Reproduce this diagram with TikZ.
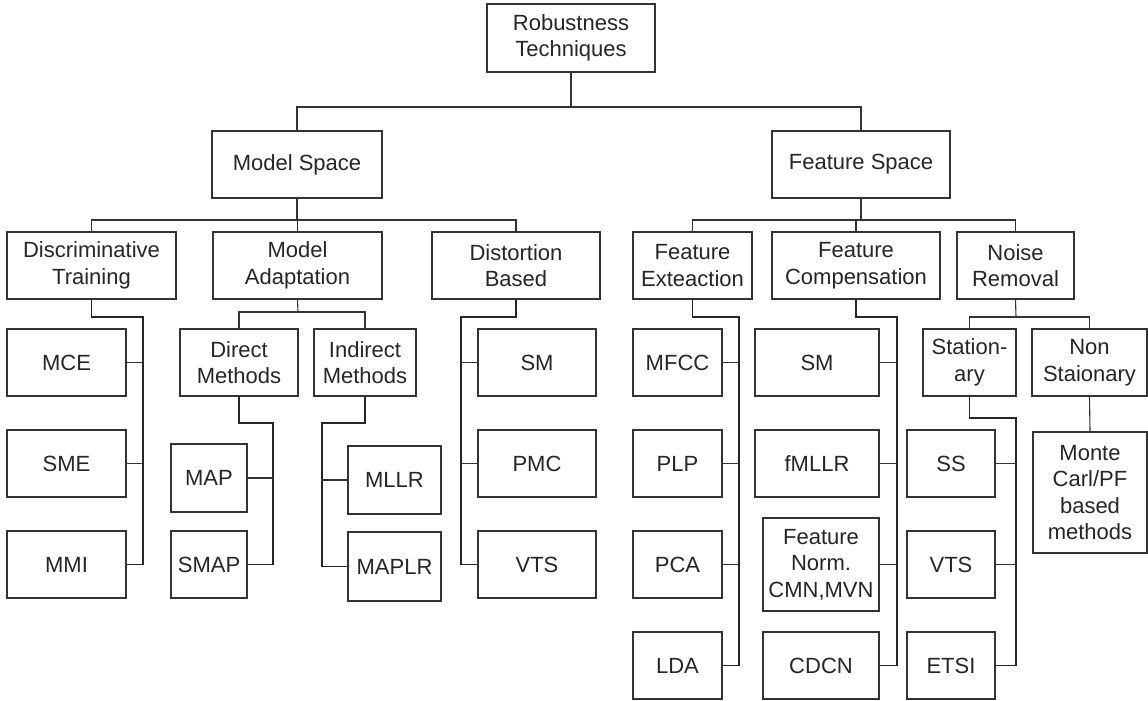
\documentclass[tikz,border=0pt]{standalone}
\usepackage{fontspec}
\setmainfont{Liberation Sans}
\begin{document}
\begin{tikzpicture}[x=1pt,y=-1pt,
  box/.style={draw=black!80,line width=1.1pt,fill=white,inner sep=0pt,align=center,
    text=black!85,font=\fontsize{22}{26.5}\selectfont},
  link/.style={draw=black!80,line width=1.1pt},
  elbow/.style={draw=black!85,line width=1.6pt}]
\useasboundingbox (0,0) rectangle (1148,701);
% box helper: name, x1, y1, x2, y2, text
\newcommand\boxnode[6]{\node[box,minimum width={(#4-#2)*1pt},minimum height={(#5-#3)*1pt}]
  (#1) at ({(#2+#4)/2},{(#3+#5)/2}) {#6};}

% root and the two spaces
\boxnode{root}{487}{4}{655}{72}{Robustness\\Techniques}
\boxnode{ms}{212}{131}{382}{198}{Model Space}
\boxnode{fs}{772}{131}{950}{198}{Feature Space}

% second level
\boxnode{dt}{7}{232}{176}{299}{Discriminative\\Training}
\boxnode{ma}{213}{232}{382}{299}{Model\\Adaptation}
\boxnode{db}{432}{232}{600}{299}{Distortion\\Based}
\boxnode{fe}{633}{232}{752}{299}{Feature\\Exteaction}
\boxnode{fc}{772}{232}{940}{299}{Feature\\Compensation}
\boxnode{nr}{957}{232}{1074}{299}{Noise\\Removal}

% discriminative training
\boxnode{mce}{7}{329}{126}{396}{MCE}
\boxnode{sme}{7}{430}{126}{497}{SME}
\boxnode{mmi}{7}{531}{126}{598}{MMI}

% model adaptation
\boxnode{dm}{180}{329}{298}{396}{Direct\\Methods}
\boxnode{im}{314}{329}{416}{396}{Indirect\\Methods}
\boxnode{map}{171}{444}{247}{512}{MAP}
\boxnode{smap}{171}{531}{247}{598}{SMAP}
\boxnode{mllr}{348}{446}{441}{514}{MLLR}
\boxnode{maplr}{348}{532}{441}{601}{MAPLR}

% distortion based
\boxnode{dsm}{478}{329}{596}{396}{SM}
\boxnode{pmc}{478}{430}{596}{497}{PMC}
\boxnode{dvts}{478}{531}{596}{598}{VTS}

% feature extraction
\boxnode{mfcc}{633}{329}{722}{396}{MFCC}
\boxnode{plp}{633}{430}{722}{497}{PLP}
\boxnode{pca}{633}{531}{722}{598}{PCA}
\boxnode{lda}{633}{632}{722}{699}{LDA}

% feature compensation
\boxnode{csm}{755}{329}{879}{396}{SM}
\boxnode{fmllr}{755}{430}{879}{497}{fMLLR}
\boxnode{fnorm}{763}{518}{879}{611}{Feature\\Norm.\\CMN,MVN}
\boxnode{cdcn}{763}{632}{879}{699}{CDCN}

% noise removal
\boxnode{st}{923}{329}{1016}{396}{Station-\\ary}
\boxnode{nst}{1032}{329}{1147}{396}{Non\\Staionary}
\boxnode{ss}{907}{430}{995}{497}{SS}
\boxnode{nvts}{907}{531}{995}{598}{VTS}
\boxnode{etsi}{907}{632}{995}{699}{ETSI}
\boxnode{mc}{1033}{432}{1147}{553}{Monte\\Carl/PF\\based\\methods}

% bus points
\coordinate (rbus) at (571,107);
\coordinate (msbus) at (297,220);
\coordinate (fsbus) at (861,220);
\coordinate (mabus) at (298,312);
\coordinate (nrbus) at (1016,317);
\coordinate (dtv) at (143,317);
\coordinate (dbv) at (461,317);
\coordinate (fev) at (739,317);
\coordinate (fcv) at (897,317);
\coordinate (dmv) at (273,423);
\coordinate (imv) at (322,423);
\coordinate (stv) at (1016,418);

% top levels
\draw[link] (root.south) -- (rbus);
\draw[link] (ms.north) |- (rbus) -| (fs.north);
\draw[link] (ms.south) -- (msbus);
\draw[link] (dt.north) |- (msbus) -| (db.north);
\draw[link] (ma.north) -- (ma.north |- msbus);
\draw[link] (fs.south) -- (fsbus);
\draw[link] (fe.north) |- (fsbus) -| (nr.north);
\draw[link] (fc.north) -- (fc.north |- fsbus);

% model adaptation split
\draw[link] (ma.south) -- (mabus);
\draw[link] (dm.north) |- (mabus) -| (im.north);
% noise removal split
\draw[link] (nr.south) -- (nrbus);
\draw[link] (st.north) |- (nrbus) -| (nst.north);
\draw[link] (nst.south) -- (mc.north);

% elbow trunks
\draw[elbow] (dt.south) |- (dtv) |- (mmi.east);
\draw[elbow] (db.south) |- (dbv) |- (dvts.west);
\draw[elbow] (fe.south) |- (fev) |- (lda.east);
\draw[elbow] (fc.south) |- (fcv) |- (cdcn.east);
\draw[elbow] (dm.south) |- (dmv) |- (smap.east);
\draw[elbow] (im.south) |- (imv) |- (maplr.west);
\draw[elbow] (st.south) |- (stv) |- (etsi.east);

% stubs
\draw[link] (mce.east) -- (mce.east -| dtv);
\draw[link] (sme.east) -- (sme.east -| dtv);
\draw[link] (dsm.west) -- (dsm.west -| dbv);
\draw[link] (pmc.west) -- (pmc.west -| dbv);
\draw[link] (mfcc.east) -- (mfcc.east -| fev);
\draw[link] (plp.east) -- (plp.east -| fev);
\draw[link] (pca.east) -- (pca.east -| fev);
\draw[link] (csm.east) -- (csm.east -| fcv);
\draw[link] (fmllr.east) -- (fmllr.east -| fcv);
\draw[link] (fnorm.east) -- (fnorm.east -| fcv);
\draw[link] (map.east) -- (map.east -| dmv);
\draw[link] (mllr.west) -- (mllr.west -| imv);
\draw[link] (ss.east) -- (ss.east -| stv);
\draw[link] (nvts.east) -- (nvts.east -| stv);
\end{tikzpicture}
\end{document}
